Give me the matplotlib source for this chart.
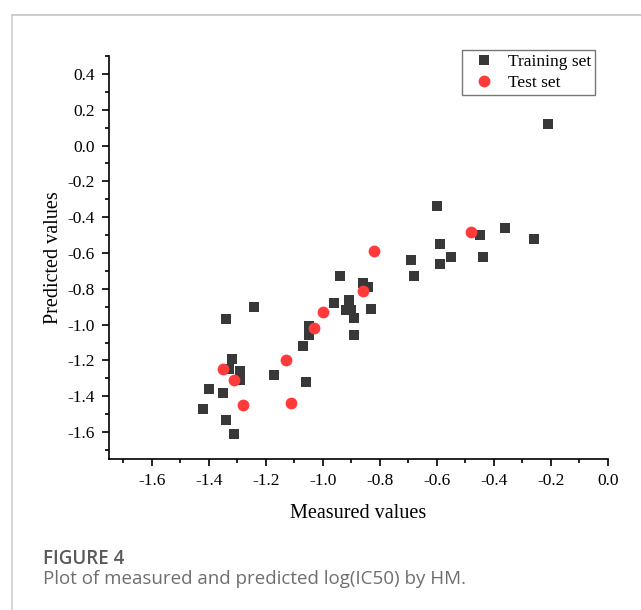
import numpy as np
import matplotlib
matplotlib.use("Agg")
from matplotlib import pyplot as plt
from matplotlib.lines import Line2D
from matplotlib.ticker import MultipleLocator

# training set (measured, predicted)
train_x = [-0.21, -0.60, -0.36, -0.26, -0.45, -0.59, -0.55, -0.44, -0.69, -0.59,
           -0.68, -0.94, -0.86, -0.84, -0.96, -0.91, -0.91, -0.92, -0.90, -0.89,
           -0.83, -0.89, -1.24, -1.34, -1.05, -1.05, -1.07, -1.32, -1.33, -1.29,
           -1.29, -1.17, -1.06, -1.40, -1.35, -1.42, -1.34, -1.31]
train_y = [0.12, -0.34, -0.46, -0.52, -0.50, -0.55, -0.62, -0.62, -0.64, -0.66,
           -0.73, -0.73, -0.77, -0.79, -0.88, -0.86, -0.89, -0.92, -0.92, -0.96,
           -0.91, -1.06, -0.90, -0.97, -1.01, -1.06, -1.12, -1.19, -1.25, -1.26,
           -1.31, -1.28, -1.32, -1.36, -1.38, -1.47, -1.53, -1.61]

# test set
test_x = [-0.48, -0.82, -0.86, -1.00, -1.03, -1.13, -1.35, -1.31, -1.28, -1.11]
test_y = [-0.48, -0.59, -0.81, -0.93, -1.02, -1.20, -1.25, -1.31, -1.45, -1.44]

x_ticks = [-1.6, -1.4, -1.2, -1.0, -0.8, -0.6, -0.4, -0.2, 0.0]
y_ticks = [-1.6, -1.4, -1.2, -1.0, -0.8, -0.6, -0.4, -0.2, 0.0, 0.2, 0.4]

W, H = 641, 610
fig = plt.figure(figsize=(W / 100, H / 100), dpi=100)
serif = "Liberation Serif"

ax = fig.add_axes([109 / W, 1 - 459 / H, (608 - 109) / W, (459 - 56) / H])
ax.plot(train_x, train_y, "s", color="#383838", markersize=7.8, label="Training set",
        markeredgewidth=0)
ax.plot(test_x, test_y, "o", color="#ff3a3a", markersize=8.5, label="Test set",
        markeredgewidth=0)

ax.set_xlim(-1.75, 0.0)
ax.set_ylim(-1.75, 0.5)
ax.set_xticks(x_ticks)
ax.set_yticks(y_ticks)
ax.set_xticklabels(["%.1f" % v for v in x_ticks])
ax.set_yticklabels(["%.1f" % v for v in y_ticks])
ax.xaxis.set_minor_locator(MultipleLocator(0.1))
ax.yaxis.set_minor_locator(MultipleLocator(0.1))

for s in ["top", "right"]:
    ax.spines[s].set_visible(False)
for s in ["left", "bottom"]:
    ax.spines[s].set_linewidth(1.2)
ax.tick_params(which="major", direction="out", length=5, width=1.2, labelsize=12.5, pad=5)
ax.tick_params(which="minor", direction="out", length=3, width=1.2)
for lab in ax.get_xticklabels() + ax.get_yticklabels():
    lab.set_fontfamily(serif)

ax.set_xlabel("Measured values", fontsize=14.5, family=serif, labelpad=11)
ax.set_ylabel("Predicted values", fontsize=14.5, family=serif, labelpad=3)

leg = ax.legend(loc="upper right", bbox_to_anchor=(595 / W, 1 - 50 / H),
                bbox_transform=fig.transFigure, prop={"family": serif, "size": 12.5},
                frameon=True, fancybox=False, edgecolor="#555555", borderaxespad=0,
                handletextpad=0.35, borderpad=0.22, labelspacing=0.3, handlelength=2.1)
leg.get_frame().set_linewidth(1.0)

# page frame and caption
fig.add_artist(Line2D([11.5 / W, 1], [1 - 15 / H, 1 - 15 / H], transform=fig.transFigure,
                      color="#c4c4c4", lw=1.2))
fig.add_artist(Line2D([11.5 / W, 11.5 / W], [1 - 15 / H, 0], transform=fig.transFigure,
                      color="#cfcfcf", lw=1.2))
fig.text(43 / W, 1 - 564 / H, "FIGURE 4", family="Open Sans", fontsize=13.5,
         fontweight="semibold", color="#5a5a5a", va="baseline")
fig.text(43 / W, 1 - 584 / H, "Plot of measured and predicted log(IC50) by HM.",
         family="Open Sans", fontsize=13.5, color="#6e6e6e", va="baseline")

fig.savefig("out.png", dpi=100)
